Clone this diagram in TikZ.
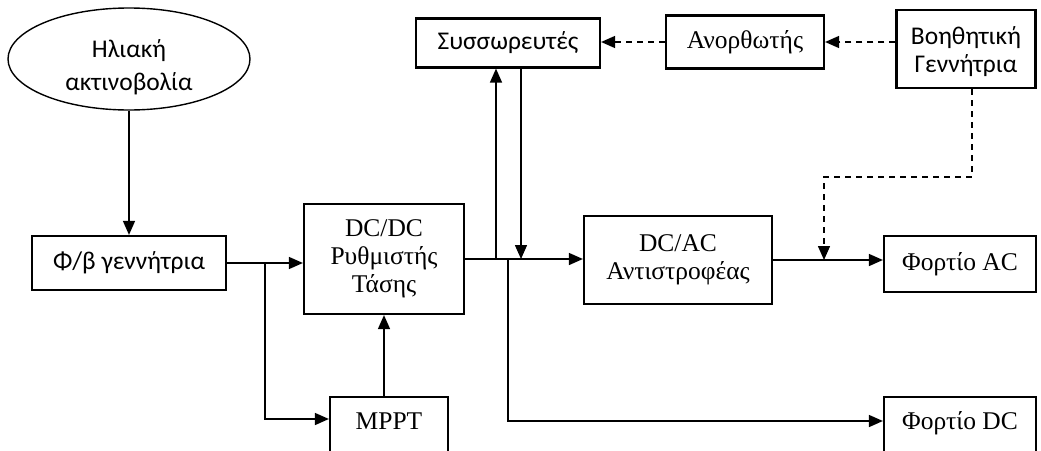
\documentclass[tikz,border=0pt]{standalone}
\usepackage{fontspec}
\setmainfont{Liberation Serif}
\newfontfamily\sansgr{Carlito}
\usetikzlibrary{arrows.meta,shapes.geometric}

\tikzset{
  blk/.style={draw, line width=2.2pt, rectangle, inner sep=0pt, align=center,
              font=\fontsize{25.5}{28}\selectfont},
  sblk/.style={blk, font=\sansgr\fontsize{25.5}{28}\selectfont},
  arr/.style={line width=1.5pt, -{Triangle[length=14pt,width=12pt]}},
  darr/.style={arr, dash pattern=on 6pt off 5pt},
}
% text set at a fixed offset from the node centre, taking no room of its own
\newcommand{\shifted}[2]{\raisebox{#1}[0pt][0pt]{#2}}

\begin{document}
\begin{tikzpicture}[x=1pt, y=-1pt]
  \useasboundingbox (0,0) rectangle (1041,450);

  % source and PV generator
  \node[draw, ellipse, line width=1.4pt, inner sep=0pt, minimum width=242pt,
        minimum height=102pt,
        font=\sansgr\fontsize{25.5}{33}\selectfont] (sun) at (129,59)
        {\shifted{-15pt}{\begin{tabular}{@{}c@{}}Ηλιακή\\ακτινοβολία\end{tabular}}};
  \node[sblk, minimum width=194pt, minimum height=54pt] (pv) at (129,263) {Φ/β γεννήτρια};

  % conversion chain
  \node[blk, minimum width=160pt, minimum height=110pt,
        font=\fontsize{25.5}{28}\selectfont] (dcdc) at (384,259) {DC/DC\\Ρυθμιστής\\Τάσης};
  \node[blk, minimum width=118pt, minimum height=60pt] (mppt) at (389,427) {\shifted{-2.4pt}{MPPT}};
  \node[blk, minimum width=188pt, minimum height=88pt] (dcac) at (678,260) {DC/AC\\Αντιστροφέας};

  % storage and backup
  \node[sblk, minimum width=184pt, minimum height=49pt] (bat) at (508,43) {Συσσωρευτές};
  \node[blk, minimum width=158pt, minimum height=53pt] (rect) at (745,42) {Ανορθωτής};
  \node[sblk, minimum width=139pt, minimum height=78pt,
        font=\sansgr\fontsize{25.5}{28}\selectfont] (aux) at (966,49)
        {\shifted{-10pt}{\begin{tabular}{@{}c@{}}Βοηθητική\\Γεννήτρια\end{tabular}}};

  % loads
  \node[blk, minimum width=152pt, minimum height=56pt] (fac) at (960,264) {Φορτίο AC};
  \node[blk, minimum width=152pt, minimum height=60pt] (fdc) at (960,427) {\shifted{-2.4pt}{Φορτίο DC}};

  % junction points on the DC bus
  \coordinate (pvtap) at (265,263);
  \coordinate (batup) at (496,259);
  \coordinate (batdn) at (521,259);
  \coordinate (dctap) at (508,259);
  \coordinate (acj) at (824,260);
  \coordinate (dbend) at (824,177);

  % power flow
  \draw[arr] (sun.south) -- (sun.south |- pv.north);
  \draw[arr] (pv.east) -- (pv.east -| dcdc.west);
  \draw[arr] (pvtap) |- ([yshift=8pt]mppt.west);
  \draw[arr] (dcdc.south |- mppt.north) -- (dcdc.south);
  \draw[arr] (dcdc.east) -- (dcdc.east -| dcac.west);
  \draw[arr] (batup) -- (batup |- bat.south);
  \draw[arr] (batdn |- bat.south) -- (batdn);
  \draw[arr] (dctap) |- ([yshift=6pt]fdc.west);
  \draw[arr] (dcac.east) -- (dcac.east -| fac.west);

  % backup generator paths
  \draw[darr] (aux.west |- rect.east) -- (rect.east);
  \draw[darr] (rect.west) -- (rect.west -| bat.east);
  \draw[darr] ([xshift=6pt]aux.south) |- (dbend) -- (acj);
\end{tikzpicture}
\end{document}
